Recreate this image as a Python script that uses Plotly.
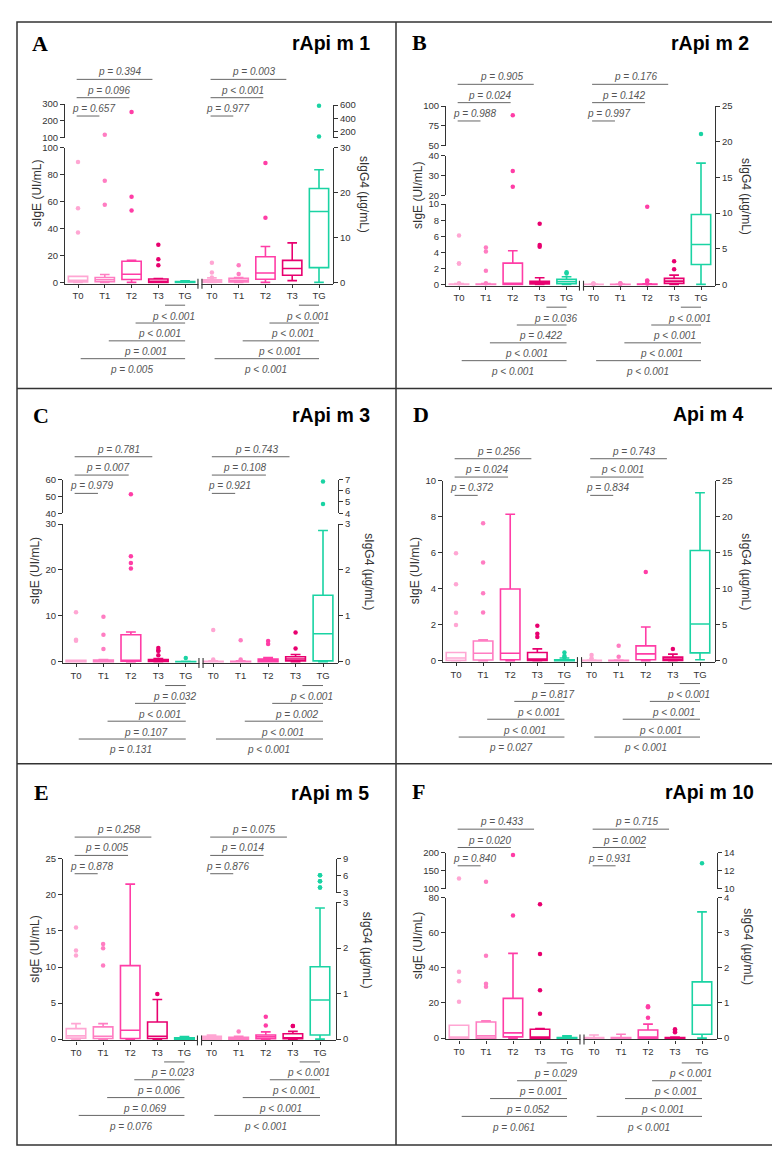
import plotly.graph_objects as go

W, H = 780, 1155

groups = ["T0", "T1", "T2", "T3", "TG"]
colors = ["#FFA6D3", "#FF7DC2", "#FF3DA6", "#E8006F", "#1AD3A3"]
titles = ["rApi m 1", "rApi m 2", "rApi m 3", "Api m 4", "rApi m 5", "rApi m 10"]
letters = ["A", "B", "C", "D", "E", "F"]

# ---- box statistics (10 boxes per panel: sIgE T0..TG, then sIgG4 T0..TG) ----
A_q1 = [0.3, 0.5, 2.2, 0.0, 0.05, 0.05, 0.1, 0.7, 1.6, 3.3]
A_med = [1.5, 2.0, 6.1, 0.5, 0.2, 0.2, 0.4, 2.1, 3.1, 15.8]
A_q3 = [4.5, 3.7, 15.7, 2.5, 0.6, 0.6, 0.9, 5.7, 4.9, 20.9]
A_lo = [0, 0, 0, 0, 0, 0, 0, 0, 0.4, 0]
A_hi = [4.5, 5.9, 16.5, 2.8, 1.2, 1.0, 1.1, 8.0, 8.8, 25.1]
A_out = [[89.4, 55.0, 37.0], [117.6, 75.4, 57.7], [253, 63.6, 53.3], [28.0, 17.2, 12.8], [],
         [4.4, 2.2, 1.1], [3.8, 1.9], [26.6, 14.4], [], [590, 119]]

B_q1 = [0, 0, 0, 0.05, 0.08, 0, 0, 0, 0.14, 2.8]
B_med = [0, 0, 0.05, 0.2, 0.33, 0, 0, 0.02, 0.46, 5.6]
B_q3 = [0.05, 0.05, 2.65, 0.4, 0.62, 0.03, 0.03, 0.05, 0.84, 9.8]
B_lo = [0, 0, 0, 0, 0, 0, 0, 0, 0, 0]
B_hi = [0.1, 0.1, 4.2, 0.83, 0.95, 0.05, 0.05, 0.1, 1.3, 17.0]
B_out = [[6.1, 2.6, 2.6, 0.15], [4.6, 4.1, 1.7, 0.15], [88.6, 32.3, 24.3], [7.55, 4.9, 4.7], [1.5, 1.37],
         [0.1, 0.12, 0.1], [0.12, 0.1, 0.15], [10.9, 0.55, 0.46, 0.14], [3.25, 2.14], [21.1]]

C_q1 = [0, 0, 0.1, 0.05, 0, 0, 0, 0, 0.02, 0.02]
C_med = [0.05, 0.1, 0.2, 0.2, 0.01, 0.005, 0.005, 0.03, 0.06, 0.61]
C_q3 = [0.3, 0.36, 5.9, 0.5, 0.05, 0.01, 0.01, 0.06, 0.11, 1.45]
C_lo = [0, 0, 0, 0, 0, 0, 0, 0, 0, 0]
C_hi = [0.3, 0.5, 6.5, 0.7, 0.1, 0.02, 0.02, 0.09, 0.16, 2.86]
C_out = [[10.8, 4.8, 4.6], [9.8, 5.9, 2.8], [51.3, 23.0, 21.5, 20.3], [3.0, 2.4, 2.4, 1.4], [0.8],
         [0.69, 0.05], [0.47, 0.05], [0.45, 0.39], [0.64, 0.29], [6.83, 4.82]]

D_q1 = [0.02, 0.04, 0.06, 0.02, 0, 0, 0, 0.14, 0.05, 1.1]
D_med = [0.15, 0.42, 0.42, 0.1, 0.02, 0.02, 0.02, 0.96, 0.23, 5.1]
D_q3 = [0.46, 1.1, 3.98, 0.46, 0.05, 0.05, 0.05, 2.06, 0.5, 15.3]
D_lo = [0, 0, 0, 0, 0, 0, 0, 0, 0, 0.14]
D_hi = [0.46, 1.16, 8.13, 0.66, 0.15, 0.1, 0.1, 4.68, 0.92, 23.3]
D_out = [[5.96, 4.24, 2.66, 1.98], [7.63, 5.45, 3.74, 2.68], [], [1.94, 1.5, 1.32], [0.46, 0.26, 0.2],
         [0.8, 0.35], [2.1, 0.55], [12.3], [1.65], []]

E_q1 = [0.14, 0.1, 0.1, 0.1, 0, 0, 0, 0.01, 0.01, 0.09]
E_med = [0.45, 0.4, 1.23, 0.4, 0.05, 0.02, 0.01, 0.05, 0.03, 0.86]
E_q3 = [1.46, 1.7, 10.2, 2.38, 0.18, 0.06, 0.04, 0.09, 0.12, 1.59]
E_lo = [0, 0, 0, 0, 0, 0, 0, 0, 0, 0]
E_hi = [2.15, 2.15, 21.5, 5.5, 0.37, 0.09, 0.06, 0.16, 0.17, 2.88]
E_out = [[15.5, 12.3, 11.6], [13.2, 12.6, 10.2], [], [6.26], [],
         [], [0.17], [0.49, 0.3], [0.29, 0.29], [6.1, 6.1, 5.0, 5.0, 3.9, 3.9]]

F_q1 = [0, 0, 0.75, 0, 0, 0, 0, 0, 0, 0.11]
F_med = [0.5, 1.3, 3.0, 0.4, 0.1, 0.01, 0.01, 0.02, 0.005, 0.94]
F_q3 = [7.3, 9.2, 22.6, 5.1, 0.3, 0.02, 0.02, 0.23, 0.02, 1.6]
F_lo = [0, 0, 0, 0, 0, 0, 0, 0, 0, 0]
F_hi = [7.3, 9.8, 48.2, 5.5, 1.3, 0.09, 0.11, 0.4, 0.03, 3.59]
F_out = [[128, 37.7, 32.4, 20.7], [118.9, 46.9, 30.9, 29.2], [194, 69.7], [76.1, 47.8, 27.3, 13.9], [],
         [], [], [0.91, 0.88, 0.58], [0.25, 0.2, 0.17], [12.83]]

# ---- p-values: top (T0-T1, T0-T2, T0-T3 | same for sIgG4), bottom (T3-TG, T2-TG, T1-TG, T0-TG | sIgG4) ----
A_ptop = ["= 0.657", "= 0.096", "= 0.394", "= 0.977", "< 0.001", "= 0.003"]
A_pbot = ["< 0.001", "< 0.001", "= 0.001", "= 0.005", "< 0.001", "< 0.001", "< 0.001", "< 0.001"]
B_ptop = ["= 0.988", "= 0.024", "= 0.905", "= 0.997", "= 0.142", "= 0.176"]
B_pbot = ["= 0.036", "= 0.422", "< 0.001", "< 0.001", "< 0.001", "< 0.001", "< 0.001", "< 0.001"]
C_ptop = ["= 0.979", "= 0.007", "= 0.781", "= 0.921", "= 0.108", "= 0.743"]
C_pbot = ["= 0.032", "< 0.001", "= 0.107", "= 0.131", "< 0.001", "= 0.002", "< 0.001", "< 0.001"]
D_ptop = ["= 0.372", "= 0.024", "= 0.256", "= 0.834", "< 0.001", "= 0.743"]
D_pbot = ["= 0.817", "< 0.001", "< 0.001", "= 0.027", "< 0.001", "< 0.001", "< 0.001", "< 0.001"]
E_ptop = ["= 0.878", "= 0.005", "= 0.258", "= 0.876", "= 0.014", "= 0.075"]
E_pbot = ["= 0.023", "= 0.006", "= 0.069", "= 0.076", "< 0.001", "< 0.001", "< 0.001", "< 0.001"]
F_ptop = ["= 0.840", "= 0.020", "= 0.433", "= 0.931", "= 0.002", "= 0.715"]
F_pbot = ["= 0.029", "= 0.001", "= 0.052", "= 0.061", "< 0.001", "< 0.001", "< 0.001", "< 0.001"]

# ---- axis segments (value range + tick values) ----
A_left_ranges = [(0, 100, [0, 20, 40, 60, 80, 100]), (100, 300, [100, 200, 300])]
A_right_ranges = [(0, 30, [0, 10, 20, 30]), (100, 600, [200, 400, 600])]
B_left_ranges = [(0, 10, [0, 2, 4, 6, 8, 10]), (20, 40, [20, 30, 40]), (50, 100, [50, 75, 100])]
B_right_ranges = [(0, 25, [0, 5, 10, 15, 20, 25])]
C_left_ranges = [(0, 30, [0, 10, 20, 30]), (40, 60, [40, 50, 60])]
C_right_ranges = [(0, 3, [0, 1, 2, 3]), (4, 7, [4, 5, 6, 7])]
D_left_ranges = [(0, 10, [0, 2, 4, 6, 8, 10])]
D_right_ranges = [(0, 25, [0, 5, 10, 15, 20, 25])]
E_left_ranges = [(0, 25, [0, 5, 10, 15, 20, 25])]
E_right_ranges = [(0, 3, [0, 1, 2, 3]), (3, 9, [3, 6, 9])]
F_left_ranges = [(0, 80, [0, 20, 40, 60, 80]), (100, 200, [100, 150, 200])]
F_right_ranges = [(0, 4, [0, 1, 2, 3, 4]), (10, 14, [10, 12, 14])]

# ---- layout geometry in pixels (positions / sizes only) ----
geo = [
    dict(L=57, R=325, c0=70, c9=311, lseg=[(271, 135), (125, 91)], rseg=[(271, 135), (125, 92)],
         brt=66, brb=294, lx=22, ly=30, tx=364, ty=29),
    dict(L=438, R=707, c0=451, c9=693, lseg=[(273, 192), (183, 143), (133, 93)], rseg=[(273, 93)],
         brt=71, brb=296, lx=402, ly=29, tx=743, ty=29),
    dict(L=55, R=330, c0=68, c9=315, lseg=[(654, 515), (504, 470)], rseg=[(654, 515), (504, 470)],
         brt=447, brb=678, lx=23, ly=405, tx=364, ty=405),
    dict(L=435, R=707, c0=448, c9=692, lseg=[(653, 471)], rseg=[(653, 471)],
         brt=449, brb=676, lx=403, ly=404, tx=738, ty=404),
    dict(L=55, R=328, c0=68, c9=312, lseg=[(1035, 853)], rseg=[(1035, 897), (887, 853)],
         brt=831, brb=1058, lx=24, ly=786, tx=363, ty=786),
    dict(L=438, R=709, c0=451, c9=694, lseg=[(1034, 892), (883, 847)], rseg=[(1034, 892), (883, 847)],
         brt=823, brb=1059, lx=402, ly=785, tx=748, ty=785),
]

panels = [
    (A_q1, A_med, A_q3, A_lo, A_hi, A_out, A_ptop, A_pbot, A_left_ranges, A_right_ranges),
    (B_q1, B_med, B_q3, B_lo, B_hi, B_out, B_ptop, B_pbot, B_left_ranges, B_right_ranges),
    (C_q1, C_med, C_q3, C_lo, C_hi, C_out, C_ptop, C_pbot, C_left_ranges, C_right_ranges),
    (D_q1, D_med, D_q3, D_lo, D_hi, D_out, D_ptop, D_pbot, D_left_ranges, D_right_ranges),
    (E_q1, E_med, E_q3, E_lo, E_hi, E_out, E_ptop, E_pbot, E_left_ranges, E_right_ranges),
    (F_q1, F_med, F_q3, F_lo, F_hi, F_out, F_ptop, F_pbot, F_left_ranges, F_right_ranges),
]

FONT = "Liberation Sans, Arial, sans-serif"
AX = "#333333"
PCOL = "#555555"
PAD = 1.3  # px the lowest segment extends below zero so boxes sitting on 0 stay visible


def fx(px):
    return px / W


def fy(py):
    return 1 - py / H


fig = go.Figure()
layout = {}
shapes = []
annots = []
yid = 0

for pi, (q1, med, q3, lo, hi, outs, ptop, pbot, lranges, rranges) in enumerate(panels):
    g = geo[pi]
    xname = "x" if pi == 0 else f"x{pi + 1}"
    xkey = "xaxis" if pi == 0 else f"xaxis{pi + 1}"
    sp = (g["c9"] - g["c0"]) / 9.0
    xr = [(g["L"] - g["c0"]) / sp, (g["R"] - g["c0"]) / sp]

    segs = {"left": [], "right": []}
    for side, ranges, pxs in (("left", lranges, g["lseg"]), ("right", rranges, g["rseg"])):
        for si, ((v0, v1, tv), (pb, pt)) in enumerate(zip(ranges, pxs)):
            yid += 1
            yname = "y" if yid == 1 else f"y{yid}"
            ykey = "yaxis" if yid == 1 else f"yaxis{yid}"
            tvals = list(tv)
            ttext = [str(t) for t in tv]
            if tvals[0] != v0:
                tvals = [v0] + tvals
                ttext = [""] + ttext
            r0, dom_b = v0, pb
            if si == 0:
                r0 = v0 - PAD * (v1 - v0) / (pb - pt)
                dom_b = pb + PAD
            layout[ykey] = dict(
                domain=[fy(dom_b), fy(pt)], range=[r0, v1], anchor=xname, side=side,
                tickvals=tvals, ticktext=ttext, showline=True, linecolor=AX, linewidth=1.2,
                ticks="outside", ticklen=4, tickwidth=1.1, tickcolor=AX,
                tickfont=dict(family=FONT, size=9.5, color=AX),
                showgrid=False, zeroline=False, fixedrange=True,
            )
            segs[side].append((yname, v0, v1))

    layout[xkey] = dict(
        domain=[fx(g["L"]), fx(g["R"])], range=xr, anchor=segs["left"][0][0],
        tickvals=list(range(10)), ticktext=groups + groups, showline=True,
        linecolor=AX, linewidth=1.2, ticks="outside", ticklen=3, tickwidth=1.1, tickcolor=AX,
        tickfont=dict(family=FONT, size=9.5, color=AX), showgrid=False, zeroline=False,
        layer="below traces", fixedrange=True,
    )

    # boxes and outliers
    for k in range(10):
        side = "left" if k < 5 else "right"
        col = colors[k % 5]
        ylow = segs[side][0][0]
        fig.add_trace(go.Box(
            x=[k], q1=[q1[k]], median=[med[k]], q3=[q3[k]], lowerfence=[lo[k]], upperfence=[hi[k]],
            xaxis=xname, yaxis=ylow, boxpoints=False, width=0.72, whiskerwidth=0.5,
            line=dict(color=col, width=1.6), fillcolor="rgba(255,255,255,0)",
            showlegend=False, hoverinfo="skip",
        ))
        for (yname, v0, v1) in segs[side]:
            vals = [v for v in outs[k] if v0 <= v <= v1]
            if vals:
                fig.add_trace(go.Scatter(
                    x=[k] * len(vals), y=vals, xaxis=xname, yaxis=yname, mode="markers",
                    marker=dict(color=col, size=4.5), cliponaxis=False,
                    showlegend=False, hoverinfo="skip",
                ))

    # x-axis break mark
    zero_px = g["lseg"][0][0] + PAD
    shapes.append(dict(type="rect", xref=xname, yref="paper", x0=4.5, x1=4.61,
                       y0=fy(zero_px + 3), y1=fy(zero_px - 3), fillcolor="white",
                       line=dict(width=0), layer="above"))
    for xb in (4.48, 4.63):
        shapes.append(dict(type="line", xref=xname, yref="paper", x0=xb, x1=xb,
                           y0=fy(zero_px + 5), y1=fy(zero_px - 5), line=dict(color=AX, width=1.1)))

    # top brackets (T0 vs T1, T2, T3)
    top_end_off = [0.2, 0.08, 0.22]
    for grp in range(2):
        base = grp * 5
        for j in range(3):
            ypx = g["brt"] + (2 - j) * 18.5
            xa = base - 0.05
            xb = base + j + 1 - top_end_off[j]
            shapes.append(dict(type="line", xref=xname, yref="paper", x0=xa, x1=xb,
                               y0=fy(ypx), y1=fy(ypx), line=dict(color="#666666", width=1)))
            annots.append(dict(xref=xname, yref="paper", x=(xa + xb) / 2 + 0.2, y=fy(ypx - 7.5),
                               text="<i>p " + ptop[grp * 3 + j] + "</i>", showarrow=False,
                               xanchor="center", yanchor="middle",
                               font=dict(family=FONT, size=10, color=PCOL)))
    # bottom brackets (T3, T2, T1, T0 vs TG)
    bot_start_off = [0.25, 0.15, 0.15, 0.1]
    for grp in range(2):
        base = grp * 5
        for j in range(4):
            ypx = g["brb"] + j * 18
            xa = base + 3 - j + bot_start_off[j]
            xb = base + 4
            shapes.append(dict(type="line", xref=xname, yref="paper", x0=xa, x1=xb,
                               y0=fy(ypx), y1=fy(ypx), line=dict(color="#666666", width=1)))
            annots.append(dict(xref=xname, yref="paper", x=(xa + xb) / 2 - 0.05, y=fy(ypx + 11),
                               text="<i>p " + pbot[grp * 4 + j] + "</i>", showarrow=False,
                               xanchor="center", yanchor="middle",
                               font=dict(family=FONT, size=10, color=PCOL)))

    # axis titles
    top_px = g["lseg"][-1][1]
    mid = (zero_px + top_px) / 2
    annots.append(dict(xref="paper", yref="paper", x=fx(g["L"] - 28), y=fy(mid),
                       text="sIgE (UI/mL)", textangle=-90, showarrow=False,
                       xanchor="center", yanchor="middle",
                       font=dict(family=FONT, size=12, color=AX)))
    annots.append(dict(xref="paper", yref="paper", x=fx(g["R"] + 31), y=fy(mid),
                       text="sIgG4 (µg/mL)", textangle=90, showarrow=False,
                       xanchor="center", yanchor="middle",
                       font=dict(family=FONT, size=12, color=AX)))
    # panel letter and title
    annots.append(dict(xref="paper", yref="paper", x=fx(g["lx"]), y=fy(g["ly"]),
                       text="<b>" + letters[pi] + "</b>", showarrow=False,
                       xanchor="left", yanchor="middle",
                       font=dict(family="Liberation Serif, serif", size=22, color="black")))
    annots.append(dict(xref="paper", yref="paper", x=fx(g["tx"]), y=fy(g["ty"]),
                       text="<b>" + titles[pi] + "</b>", showarrow=False,
                       xanchor="right", yanchor="middle",
                       font=dict(family=FONT, size=19.5, color="black")))

# panel borders
BL, BT, BR, BB = 9, 8, 768, 1142
shapes.append(dict(type="rect", xref="paper", yref="paper", x0=fx(BL), x1=fx(BR), y0=fy(BB), y1=fy(BT),
                   line=dict(color="#333333", width=1.5)))
shapes.append(dict(type="line", xref="paper", yref="paper", x0=fx(388), x1=fx(388), y0=fy(BB), y1=fy(BT),
                   line=dict(color="#333333", width=1.5)))
for yy in (378, 757):
    shapes.append(dict(type="line", xref="paper", yref="paper", x0=fx(BL), x1=fx(BR), y0=fy(yy), y1=fy(yy),
                       line=dict(color="#333333", width=1.5)))

fig.update_layout(
    width=W, height=H, margin=dict(l=0, r=0, t=0, b=0),
    paper_bgcolor="white", plot_bgcolor="rgba(0,0,0,0)",
    shapes=shapes, annotations=annots, showlegend=False, boxmode="overlay",
    **layout,
)

fig.write_html("out.html")
